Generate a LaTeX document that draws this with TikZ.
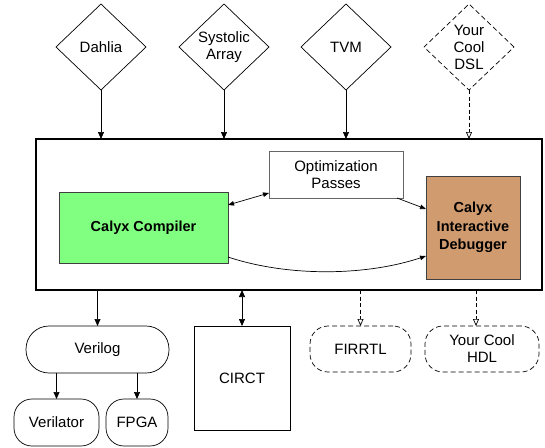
\documentclass[tikz,border=0pt]{standalone}
\usepackage{fontspec}
\setmainfont{Liberation Sans}
\usetikzlibrary{shapes.geometric,arrows.meta}
\definecolor{cgreen}{HTML}{80FF80}
\definecolor{cbrown}{HTML}{D09B6E}
\begin{document}
\begin{tikzpicture}[x=1pt,y=-1pt,
  font=\fontsize{15}{17}\selectfont,
  dia/.style={draw, diamond, inner sep=0pt, outer sep=0pt, minimum width=90pt, minimum height=86pt, align=center, line width=0.7pt},
  dashdia/.style={dia, dash pattern=on 5pt off 3pt},
  boxx/.style={draw, rectangle, inner sep=0pt, outer sep=0pt, align=center, line width=0.7pt},
  term/.style={boxx, rounded corners=18pt},
  dterm/.style={term, dash pattern=on 5pt off 3pt},
  arr/.style={-{Triangle[length=7pt,width=6pt]}, line width=0.7pt},
  barr/.style={{Triangle[length=7pt,width=6pt]}-{Triangle[length=7pt,width=6pt]}, line width=0.7pt},
  darr/.style={dash pattern=on 4pt off 2.5pt, -{Triangle[open,length=7pt,width=6pt]}, line width=0.7pt},
  sarr/.style={{Triangle[length=6pt,width=4.5pt]}-{Triangle[length=6pt,width=4.5pt]}, line width=0.7pt},
  sarr1/.style={-{Triangle[length=6pt,width=4.5pt]}, line width=0.7pt}
]
\useasboundingbox (0,0) rectangle (545,447);

% top diamonds
\node[dia] (dahlia) at (101,47) {Dahlia};
\node[dia] (systolic) at (224,47) {Systolic\\Array};
\node[dia] (tvm) at (346,47) {TVM};
\node[dashdia] (dsl) at (469,47) {Your\\Cool\\DSL};

% main box
\node[boxx, line width=1.8pt, minimum width=506pt, minimum height=151pt] (main) at (289,214.5) {};

% inner boxes
\node[boxx, draw=black!60, minimum width=134pt, minimum height=47pt] (opt) at (336,174.5) {Optimization\\Passes};
\node[boxx, fill=cgreen, draw=black!75, minimum width=169pt, minimum height=71pt, font=\bfseries\fontsize{14.5}{18.5}\selectfont] (compiler) at (143.5,227.5) {Calyx Compiler};
\node[boxx, fill=cbrown, draw=black!75, minimum width=94pt, minimum height=103pt, font=\bfseries\fontsize{14.5}{18.5}\selectfont] (debugger) at (473,227.5) {Calyx\\Interactive\\Debugger};

% bottom nodes
\node[boxx, rounded corners=23pt, minimum width=143pt, minimum height=47pt] (verilog) at (97.5,349.5) {Verilog};
\node[term, minimum width=85pt, minimum height=47pt] (verilator) at (56.5,422.5) {Verilator};
\node[term, minimum width=62pt, minimum height=47pt] (fpga) at (137,422.5) {FPGA};
\node[boxx, minimum width=96pt, minimum height=104pt] (circt) at (242,378) {CIRCT};
\node[dterm, minimum width=101pt, minimum height=46pt] (firrtl) at (360.5,349) {FIRRTL};
\node[dterm, minimum width=114pt, minimum height=46pt] (hdl) at (482,349) {Your Cool\\HDL};

% top arrows
\draw[arr] (dahlia.south) -- (dahlia.south |- main.north);
\draw[arr] (systolic.south) -- (systolic.south |- main.north);
\draw[arr] (tvm.south) -- (tvm.south |- main.north);
\draw[darr] (dsl.south) -- (dsl.south |- main.north);

% inner arrows
\draw[sarr] ([yshift=-13pt]compiler.north east) -- ([yshift=5pt]opt.south west);
\draw[sarr1] ([xshift=-6pt]opt.south east) -- ([yshift=-33pt]debugger.north west);
\draw[sarr1] ([yshift=6pt]compiler.south east) .. controls +(60,20) and +(-60,20) .. ([yshift=23pt]debugger.south west);

% bottom arrows
\draw[arr] (main.south -| verilog.north) -- (verilog.north);
\draw[arr] (verilator.north |- verilog.south) -- (verilator.north);
\draw[arr] (fpga.north |- verilog.south) -- (fpga.north);
\draw[barr] (main.south -| circt.north) -- (circt.north);
\draw[darr] (main.south -| firrtl.north) -- (firrtl.north);
\coordinate (hx) at (476,0);
\draw[darr] (main.south -| hx) -- (hdl.north -| hx);
\end{tikzpicture}
\end{document}
